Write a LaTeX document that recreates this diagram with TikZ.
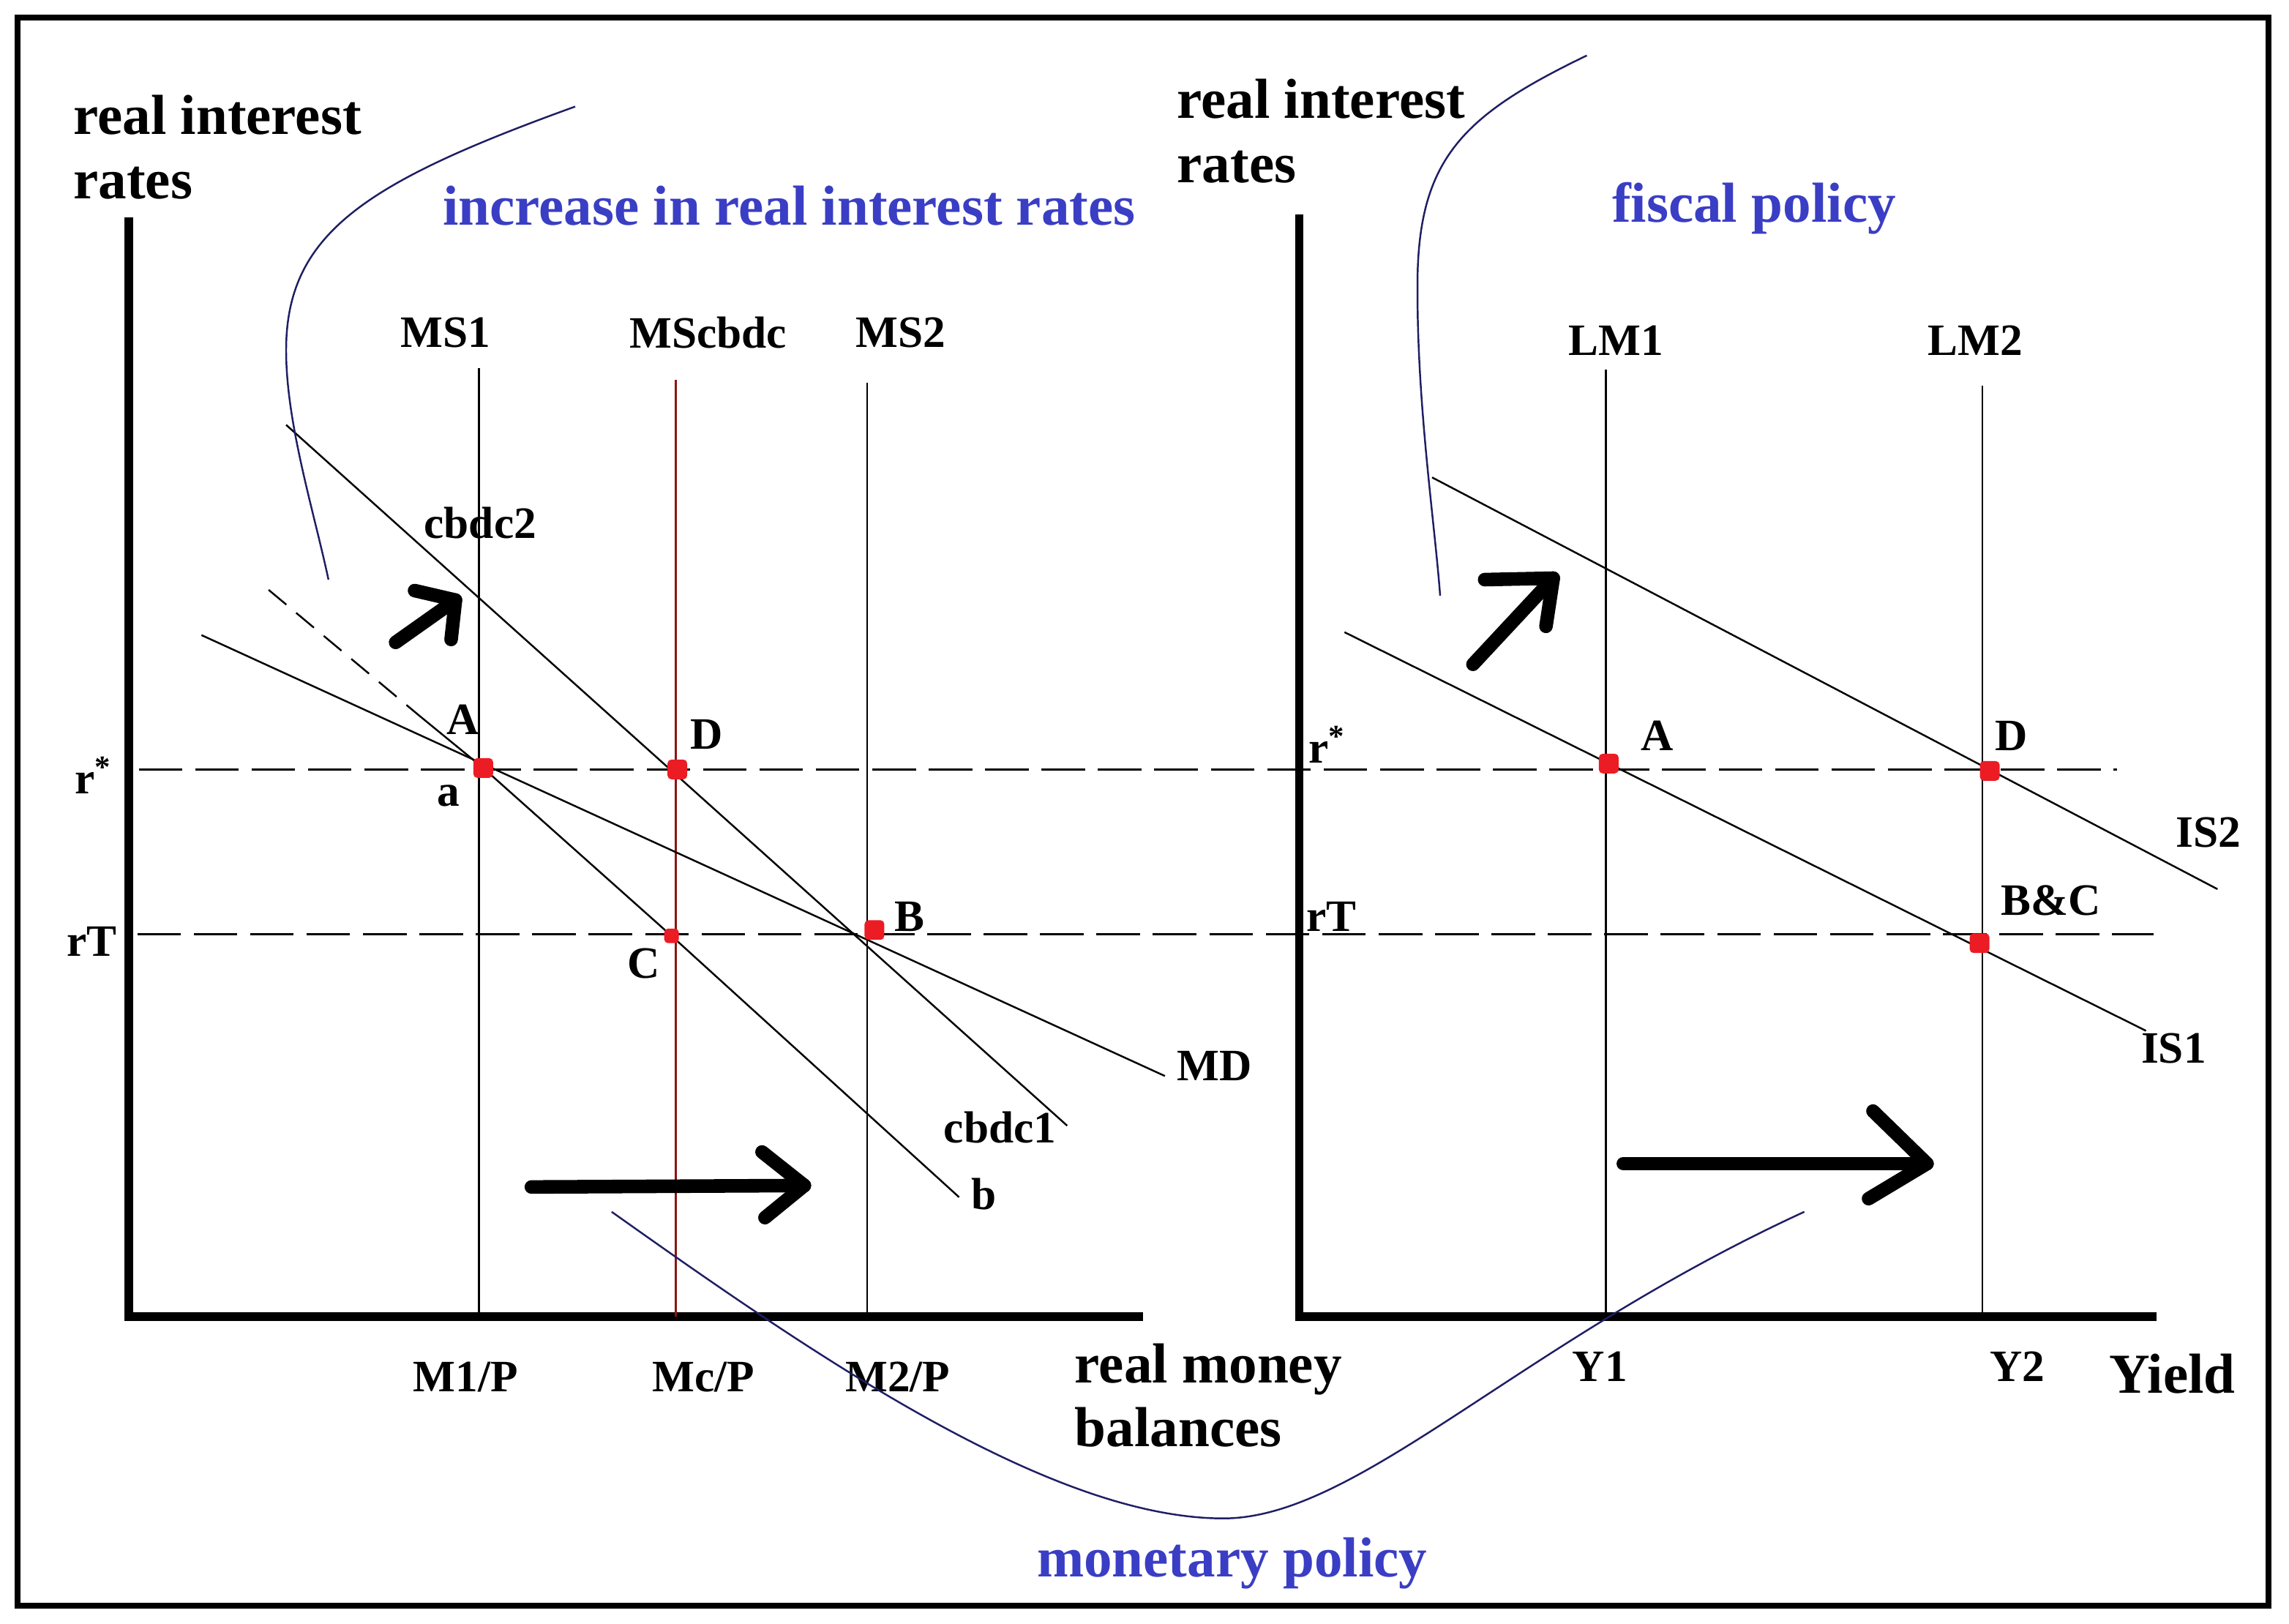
\documentclass[tikz,border=0pt]{standalone}
\usepackage{fontspec}
\setmainfont{Liberation Serif}
\usetikzlibrary{arrows.meta}
\definecolor{titleblue}{RGB}{58,62,196}
\definecolor{curvenavy}{RGB}{30,30,100}
\definecolor{ptred}{RGB}{236,28,36}
\definecolor{cbdcred}{RGB}{140,20,20}
\begin{document}
\begin{tikzpicture}[x=0.02cm,y=-0.02cm,
  bigtxt/.style={font=\fontsize{22}{26}\selectfont\bfseries, inner sep=0pt},
  smalltxt/.style={font=\fontsize{17.5}{20}\selectfont\bfseries, inner sep=0pt},
  bluetxt/.style={bigtxt, text=titleblue},
  thinline/.style={line width=0.7pt},
  axisline/.style={line width=3.4pt},
  dashline/.style={line width=0.9pt, dash pattern=on 17pt off 5pt},
  shortdash/.style={line width=0.7pt, dash pattern=on 9pt off 5pt},
  curveline/.style={line width=0.7pt, draw=curvenavy},
  bigarrow/.style={line width=5.3pt, line cap=round, line join=round},
  redpt/.style={fill=ptred, draw=none, minimum size=0.27cm, inner sep=0pt, rounded corners=1.5pt}
]
\useasboundingbox (0,0) rectangle (1568,1112.3);
\fill[white] (0,0) rectangle (1568,1112.3);
\draw[line width=2.3pt] (12,12) rectangle (1554,1100);

% ---------- texts ----------
\node[bigtxt, anchor=base west] (ylabL1) at (50,92) {real interest};
\node[bigtxt, anchor=base west] (ylabL2) at (50,136) {rates};
\node[bigtxt, anchor=base west] (ylabR1) at (806,81) {real interest};
\node[bigtxt, anchor=base west] (ylabR2) at (806,125) {rates};
\node[bluetxt, anchor=base west] (titleL) at (303,154) {increase in real interest rates};
\node[bluetxt, anchor=base west] (titleR) at (1104,152) {fiscal policy};
\node[bluetxt, anchor=base west] (titleB) at (710,1080) {monetary policy};
\node[bigtxt, anchor=base west] (xlabL1) at (736,947) {real money};
\node[bigtxt, anchor=base west] (xlabL2) at (736,991) {balances};
\node[bigtxt] (xlabR) at (1488,941) {Yield};

\node[smalltxt] (tMS1) at (305,228) {MS1};
\node[smalltxt] (tMSc) at (485,228) {MScbdc};
\node[smalltxt] (tMS2) at (617,228) {MS2};
\node[smalltxt] (tLM1) at (1107,233) {LM1};
\node[smalltxt] (tLM2) at (1353,233) {LM2};

\node[smalltxt] (tcb2) at (329,358) {cbdc2};
\node[smalltxt] (tcb1) at (685,772) {cbdc1};
\node[smalltxt] (tb) at (674,818) {b};
\node[smalltxt] (tMD) at (832,730) {MD};
\node[smalltxt] (tAL) at (317,493) {A};
\node[smalltxt] (ta) at (307,545) {a};
\node[smalltxt] (tDL) at (484,503) {D};
\node[smalltxt] (tC) at (441,660) {C};
\node[smalltxt] (tB) at (623,628) {B};
\node[smalltxt] (trsL) at (64,531) {r\textsuperscript{*}};
\node[smalltxt] (trTL) at (63,645) {rT};
\node[smalltxt] (tM1) at (319,943) {M1/P};
\node[smalltxt] (tMc) at (482,943) {Mc/P};
\node[smalltxt] (tM2) at (615,943) {M2/P};

\node[smalltxt] (trsR) at (909,510) {r\textsuperscript{*}};
\node[smalltxt] (trTR) at (912,628) {rT};
\node[smalltxt] (tAR) at (1135,504) {A};
\node[smalltxt] (tDR) at (1378,504) {D};
\node[smalltxt] (tBC) at (1405,617) {B\&C};
\node[smalltxt] (tIS2) at (1513,570) {IS2};
\node[smalltxt] (tIS1) at (1489,718) {IS1};
\node[smalltxt] (tY1) at (1096,936) {Y1};
\node[smalltxt] (tY2) at (1382,936) {Y2};

% ---------- coordinates ----------
\coordinate (LO) at (88,902); \coordinate (LY) at (88,149); \coordinate (LX) at (783,902);
\coordinate (RO) at (890,902); \coordinate (RY) at (890,147); \coordinate (RX) at (1477,902);
\coordinate (rsA) at (95,527); \coordinate (rsB) at (1450,527);
\coordinate (rTA) at (94,640); \coordinate (rTB) at (1475,640);
\coordinate (ms1t) at (328,252); \coordinate (ms1b) at (328,902);
\coordinate (msct) at (463,260); \coordinate (mscb) at (463,902);
\coordinate (ms2t) at (594,262); \coordinate (ms2b) at (594,902);
\coordinate (lm1t) at (1100,253); \coordinate (lm1b) at (1100,902);
\coordinate (lm2t) at (1358,264); \coordinate (lm2b) at (1358,902);
\coordinate (mdA) at (138,435); \coordinate (mdB) at (798,737);
\coordinate (cuA) at (196,291); \coordinate (cuB) at (731,771);
\coordinate (clA) at (184,404); \coordinate (clM) at (287,490);
\coordinate (clA2) at (331,526); \coordinate (clC) at (460,641); \coordinate (clB) at (657,820);
\coordinate (is1A) at (921,433); \coordinate (is1B) at (1470,706);
\coordinate (is2A) at (981,327); \coordinate (is2B) at (1519,609);

% ---------- lines ----------
\draw[dashline] (rsA) -- (rsB);
\draw[dashline] (rTA) -- (rTB);
\draw[axisline] (LY) -- (LO) -- (LX);
\draw[axisline] (RY) -- (RO) -- (RX);
\draw[thinline] (ms1t) -- (ms1b);
\draw[thinline, draw=cbdcred] (msct) -- (mscb);
\draw[thinline] (ms2t) -- (ms2b);
\draw[thinline] (lm1t) -- (lm1b);
\draw[thinline] (lm2t) -- (lm2b);
\draw[thinline] (mdA) -- (mdB);
\draw[thinline] (cuA) -- (cuB);
\draw[shortdash] (clA) -- (clM);
\draw[thinline] (clM) -- (clA2) -- (clC) -- (clB);
\draw[thinline] (is1A) -- (is1B);
\draw[thinline] (is2A) -- (is2B);

% ---------- red points ----------
\node[redpt] (pA) at (331,526) {};
\node[redpt] (pD) at (464,527) {};
\node[redpt, minimum size=0.2cm] (pC) at (460,641) {};
\node[redpt] (pB) at (599,637) {};
\node[redpt] (pAR) at (1102,523) {};
\node[redpt] (pDR) at (1363,528) {};
\node[redpt] (pBC) at (1356,646) {};

% ---------- thick arrows ----------
\coordinate (a1t) at (271,440); \coordinate (a1h) at (312,411);
\coordinate (a1p) at (284,404.5); \coordinate (a1q) at (309,438);
\draw[bigarrow] (a1t) -- (a1h);
\draw[bigarrow] (a1p) -- (a1h) -- (a1q);
\coordinate (a2t) at (1009,455); \coordinate (a2h) at (1064,396);
\coordinate (a2p) at (1017,397); \coordinate (a2q) at (1059,429);
\draw[bigarrow] (a2t) -- (a2h);
\draw[bigarrow] (a2p) -- (a2h) -- (a2q);
\coordinate (a3t) at (364,813); \coordinate (a3h) at (551,812);
\coordinate (a3p) at (522,789); \coordinate (a3q) at (524,834);
\draw[bigarrow] (a3t) -- (a3h);
\draw[bigarrow] (a3p) -- (a3h) -- (a3q);
\coordinate (a4t) at (1112,797); \coordinate (a4h) at (1320,797);
\coordinate (a4p) at (1283,761); \coordinate (a4q) at (1280,821);
\draw[bigarrow] (a4t) -- (a4h);
\draw[bigarrow] (a4p) -- (a4h) -- (a4q);

% ---------- curves ----------
\coordinate (c1s) at (394,73); \coordinate (c1m) at (196,240); \coordinate (c1e) at (225,397);
\draw[curveline] (c1s) .. controls (250,125) and (196,160) .. (c1m)
                       .. controls (196,290) and (215,350) .. (c1e);
\coordinate (c2s) at (1087,38); \coordinate (c2m) at (971,200); \coordinate (c2e) at (986.5,408);
\draw[curveline] (c2s) .. controls (1000,80) and (970,110) .. (c2m)
                       .. controls (971,280) and (983,360) .. (c2e);
\coordinate (c3s) at (419,830); \coordinate (c3m) at (838,1040); \coordinate (c3e) at (1236,830);
\draw[curveline] (c3s) .. controls (560,930) and (720,1040) .. (c3m)
                       .. controls (930,1040) and (1040,920) .. (c3e);
\end{tikzpicture}
\end{document}
